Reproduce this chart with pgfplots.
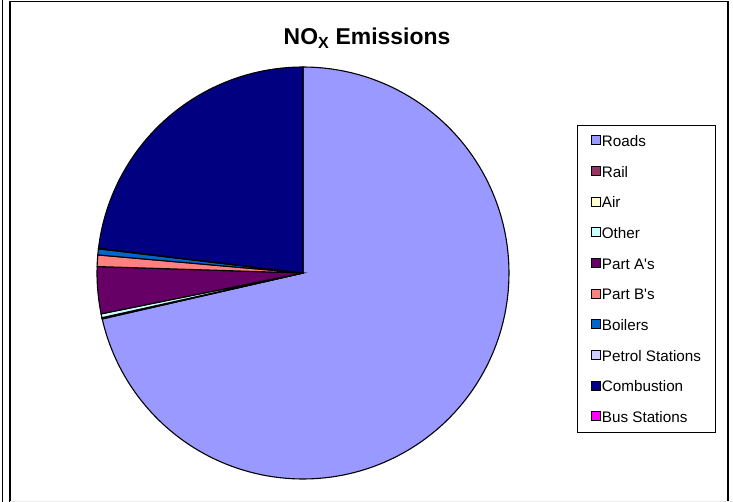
\documentclass[border=0pt]{standalone}
\usepackage{pgfplots}
\pgfplotsset{compat=1.18}
\usepackage{fontspec}
\setmainfont{Liberation Sans}
\definecolor{roads}{HTML}{9999FF}
\definecolor{rail}{HTML}{993366}
\definecolor{air}{HTML}{FFFFCC}
\definecolor{other}{HTML}{CCFFFF}
\definecolor{partA}{HTML}{660066}
\definecolor{partB}{HTML}{FF8080}
\definecolor{boilers}{HTML}{0066CC}
\definecolor{petrol}{HTML}{CCCCFF}
\definecolor{combustion}{HTML}{000080}
\definecolor{bus}{HTML}{FF00FF}
\begin{document}
\begin{tikzpicture}
\useasboundingbox (0,0) rectangle (733bp,502bp);
\fill[white] (0,0) rectangle (733bp,502bp);
\draw[line width=1bp] (2bp,0) -- (2bp,502bp);
\draw[line width=1.5bp] (10bp,0) -- (10bp,500.5bp) -- (728bp,500.5bp) -- (728bp,0);
\draw[black!8, line width=1bp] (10bp,1bp) -- (733bp,1bp);
\node[font=\bfseries\fontsize{23}{26}\selectfont, anchor=base] at (367bp,457bp) {NO\textsubscript{X} Emissions};
\begin{axis}[
  at={(303bp,229bp)}, anchor=center,
  width=412bp, height=412bp, scale only axis,
  xmin=-1, xmax=1, ymin=-1, ymax=1,
  hide axis, clip=false, no markers,
  legend image code/.code={\draw[#1, draw=black, line width=1bp] (0bp,-3.9bp) rectangle (9bp,5.1bp);},
  legend cell align=left,
  legend style={at={(1.165,0.859)}, anchor=north west, draw=black, line width=0.8bp,
    font=\fontsize{15.3}{18}\selectfont, inner xsep=14bp, inner ysep=5bp, row sep=9.67bp, column sep=0.5bp,
    nodes={inner sep=0pt, text height=16bp, text depth=5bp}},
]
% values in percent of total NOx; domain = cumulative percent x 3.6 degrees
\addplot[fill=roads, draw=black, line width=1.1bp, domain={0*3.6}:{71.42*3.6}, samples=150] ({sin(x)},{cos(x)}) -- (axis cs:0,0) -- cycle;
\addlegendentry{Roads}
\addplot[fill=rail, draw=black, line width=1.1bp, domain={71.42*3.6}:{71.47*3.6}, samples=2] ({sin(x)},{cos(x)}) -- (axis cs:0,0) -- cycle;
\addlegendentry{Rail}
\addplot[fill=air, draw=black, line width=1.1bp, domain={71.47*3.6}:{71.52*3.6}, samples=2] ({sin(x)},{cos(x)}) -- (axis cs:0,0) -- cycle;
\addlegendentry{Air}
\addplot[fill=other, draw=black, line width=1.1bp, domain={71.52*3.6}:{71.82*3.6}, samples=3] ({sin(x)},{cos(x)}) -- (axis cs:0,0) -- cycle;
\addlegendentry{Other}
\addplot[fill=partA, draw=black, line width=1.1bp, domain={71.82*3.6}:{75.50*3.6}, samples=10] ({sin(x)},{cos(x)}) -- (axis cs:0,0) -- cycle;
\addlegendentry{Part A\textquotesingle s}
\addplot[fill=partB, draw=black, line width=1.1bp, domain={75.50*3.6}:{76.40*3.6}, samples=4] ({sin(x)},{cos(x)}) -- (axis cs:0,0) -- cycle;
\addlegendentry{Part B\textquotesingle s}
\addplot[fill=boilers, draw=black, line width=1.1bp, domain={76.40*3.6}:{76.87*3.6}, samples=3] ({sin(x)},{cos(x)}) -- (axis cs:0,0) -- cycle;
\addlegendentry{Boilers}
\addplot[fill=petrol, draw=black, line width=1.1bp, domain={76.87*3.6}:{76.92*3.6}, samples=2] ({sin(x)},{cos(x)}) -- (axis cs:0,0) -- cycle;
\addlegendentry{Petrol Stations}
\addplot[fill=combustion, draw=black, line width=1.1bp, domain={76.92*3.6}:{100*3.6}, samples=60] ({sin(x)},{cos(x)}) -- (axis cs:0,0) -- cycle;
\addlegendentry{Combustion}
\addlegendimage{fill=bus}
\addlegendentry{Bus Stations}
\end{axis}
\end{tikzpicture}
\end{document}
